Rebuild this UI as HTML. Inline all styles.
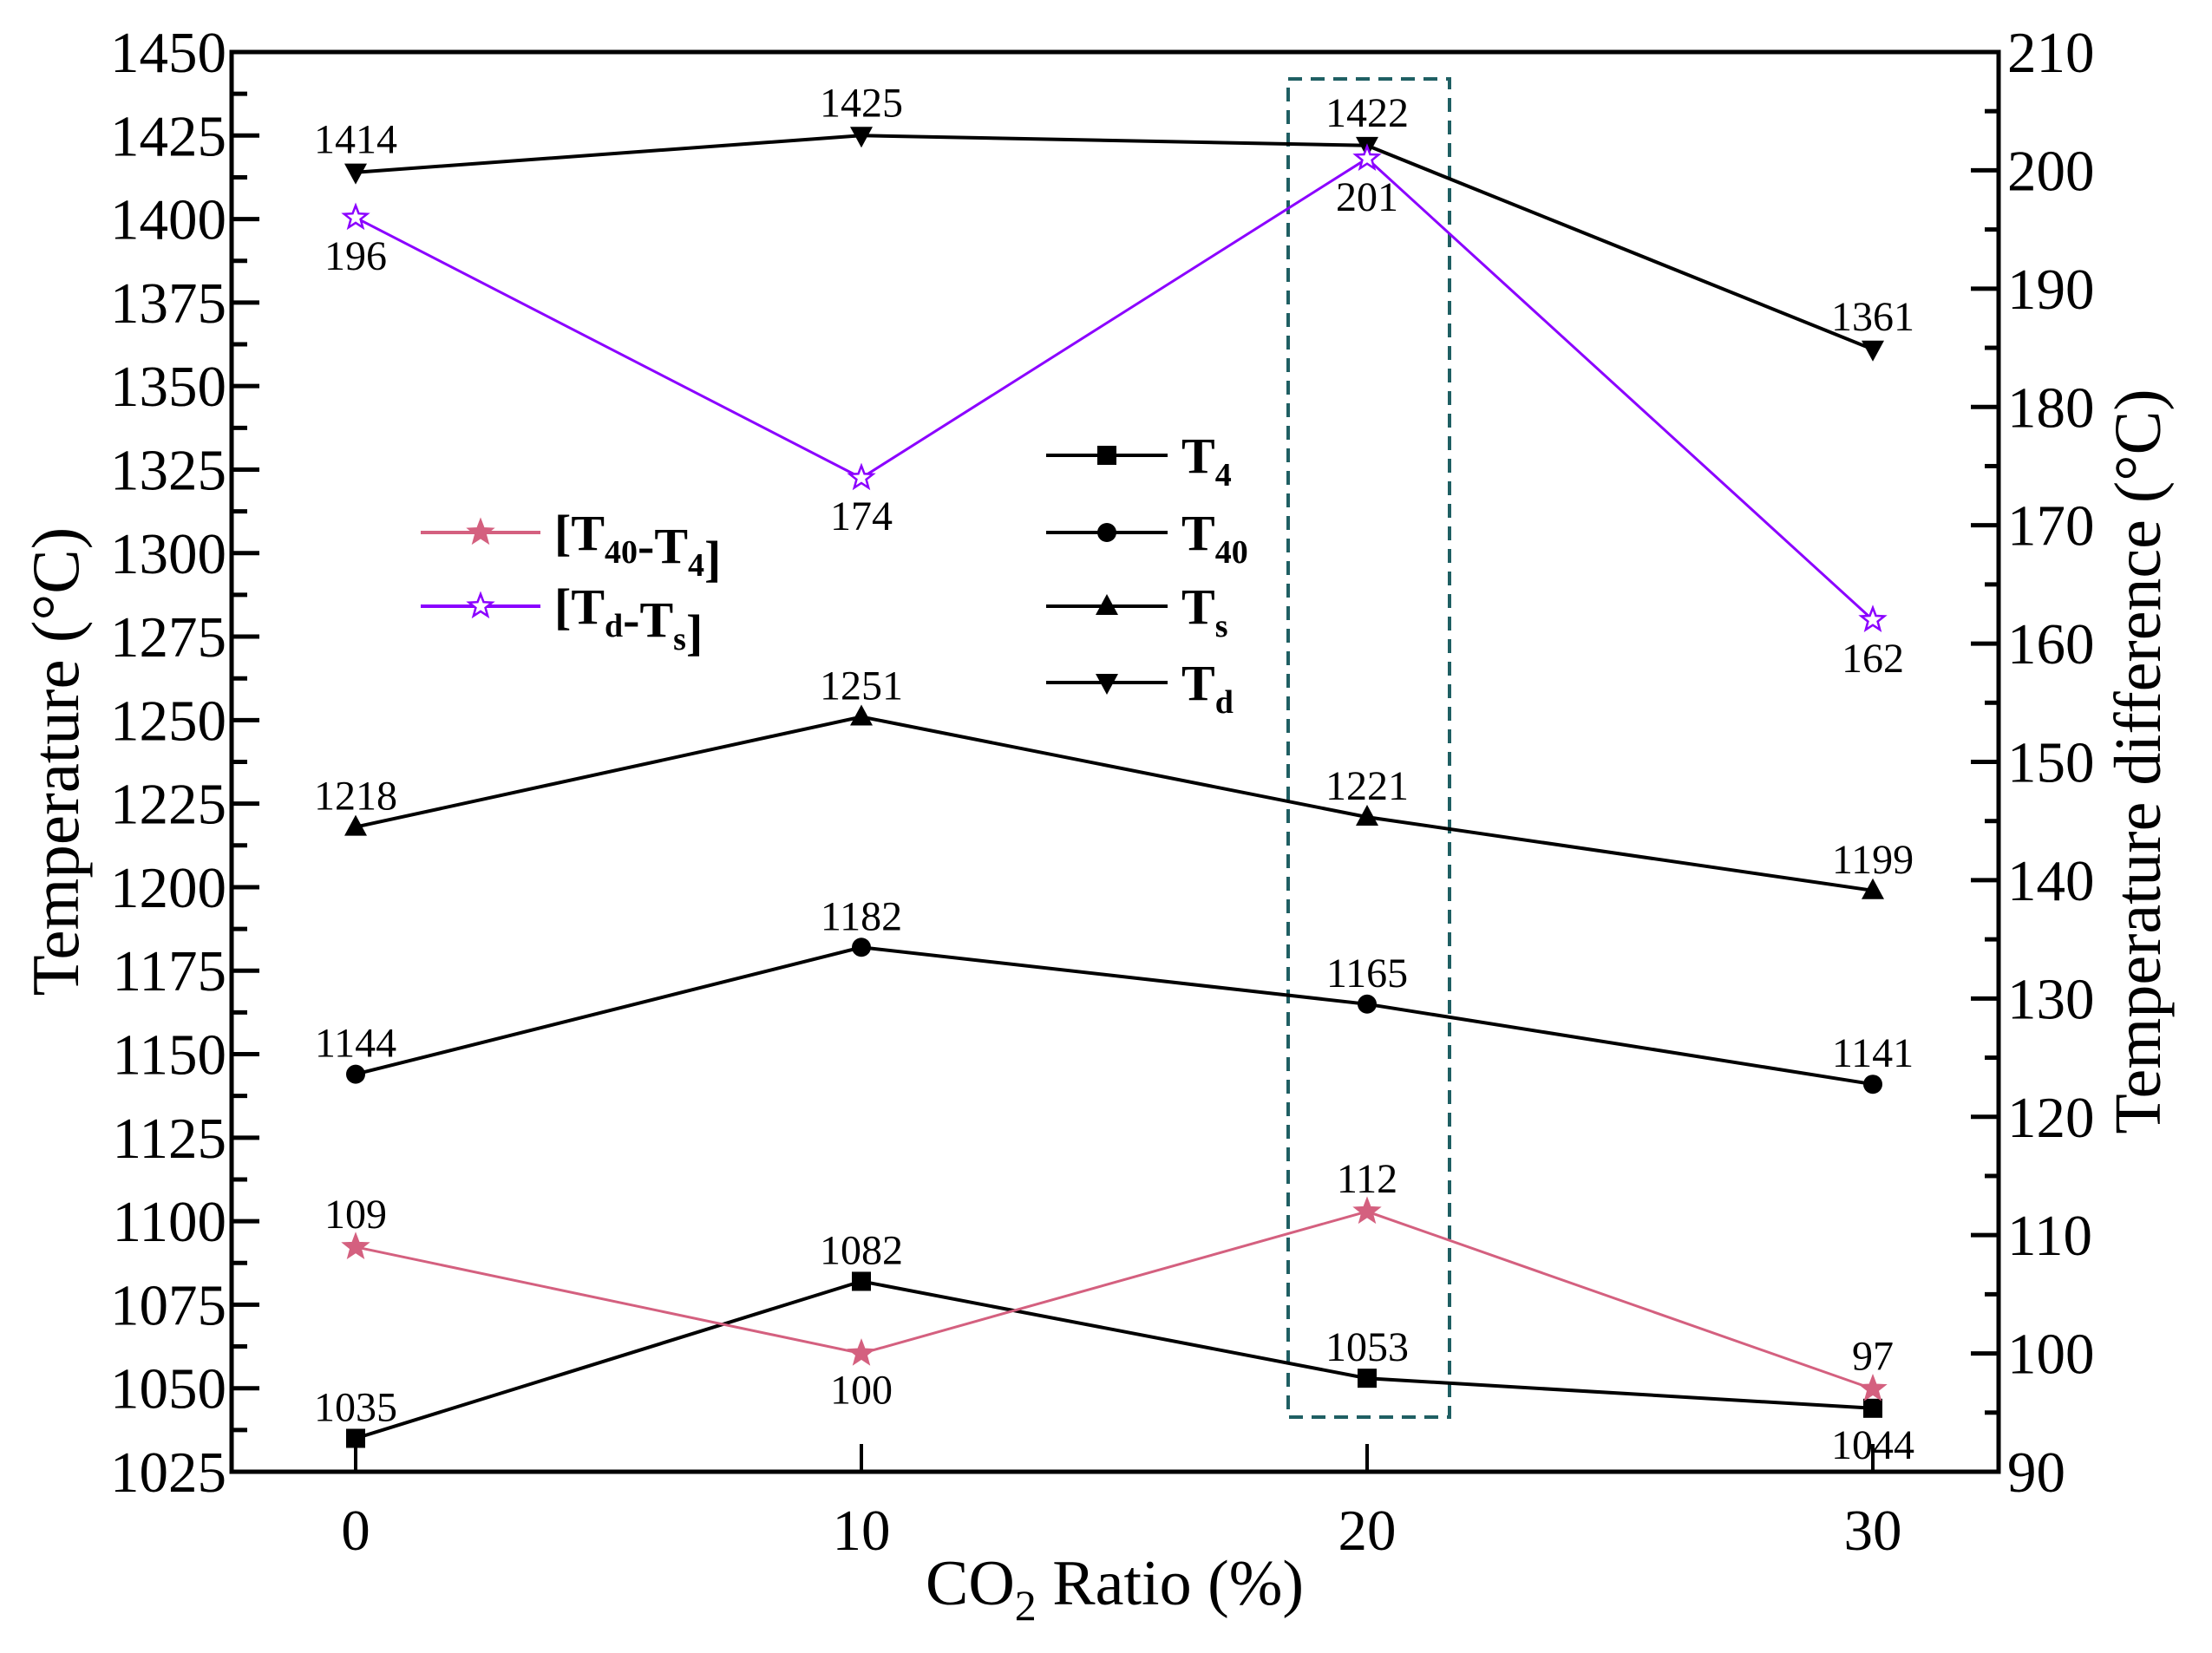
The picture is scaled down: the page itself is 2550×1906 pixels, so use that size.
<!DOCTYPE html>
<html><head><meta charset="utf-8"><style>
html,body{margin:0;padding:0;background:#fff;}
svg{display:block;font-family:"Liberation Serif",serif;}
</style></head><body>
<svg id="chart" width="2550" height="1906" viewBox="0 0 2550 1906" xmlns="http://www.w3.org/2000/svg">
<rect width="2550" height="1906" fill="#fff"/>
<g id="g"></g>
</svg>
<script>
const categories = [0, 10, 20, 30];
const t4 = [1035, 1082, 1053, 1044];
const t40 = [1144, 1182, 1165, 1141];
const ts = [1218, 1251, 1221, 1199];
const td = [1414, 1425, 1422, 1361];
const diff40_4 = [109, 100, 112, 97];
const diffDS = [196, 174, 201, 162];
const leftTicks = [1025,1050,1075,1100,1125,1150,1175,1200,1225,1250,1275,1300,1325,1350,1375,1400,1425,1450];
const rightTicks = [90,100,110,120,130,140,150,160,170,180,190,200,210];
const xTicks = [0,10,20,30];

const L=267, R=2304, T=60, B=1697;
const NS='http://www.w3.org/2000/svg';
const g=document.getElementById('g');
function xS(v){return 410+v*(2159-410)/30;}
function yL(v){return B-(v-1025)*(B-T)/425;}
function yR(v){return B-(v-90)*(B-T)/120;}
function el(tag,attrs,parent){const e=document.createElementNS(NS,tag);for(const k in attrs)e.setAttribute(k,attrs[k]);(parent||g).appendChild(e);return e;}
function txt(x,y,s,size,anchor,name){const e=el('text',{x:x,y:y,'font-size':size,'text-anchor':anchor||'middle',fill:'#000'});e.textContent=s;


return e;}

const box=el('rect',{x:1485,y:91,width:186,height:1543,fill:'none',stroke:'#1f5f63','stroke-width':4,'stroke-dasharray':'16,10'});



const frame=el('rect',{x:L,y:T,width:R-L,height:B-T,fill:'none',stroke:'#000','stroke-width':5});



leftTicks.forEach((v,i)=>{const y=yL(v);
 const t=el('line',{x1:L,x2:L+32,y1:y,y2:y,stroke:'#000','stroke-width':5});
 
 
 if(i<leftTicks.length-1){const ym=yL(v+12.5);const m=el('line',{x1:L,x2:L+18,y1:ym,y2:ym,stroke:'#000','stroke-width':5});
 
 }
 txt(L-6,y+23,String(v),67,'end','left-tick-label');
});
rightTicks.forEach((v,i)=>{const y=yR(v);
 const t=el('line',{x1:R,x2:R-32,y1:y,y2:y,stroke:'#000','stroke-width':5});
 
 
 if(i<rightTicks.length-1){const ym=yR(v+5);const m=el('line',{x1:R,x2:R-16,y1:ym,y2:ym,stroke:'#000','stroke-width':5});
 
 }
 txt(R+10,y+23,String(v),67,'start','right-tick-label');
});
xTicks.forEach(v=>{const x=xS(v);
 const t=el('line',{x1:x,x2:x,y1:B,y2:B-32,stroke:'#000','stroke-width':4});
 
 
 txt(x,1787,String(v),67,'middle','x-tick-label');
});

const yt=el('text',{x:0,y:0,'font-size':77,'text-anchor':'middle',transform:'translate(90,878) rotate(-90)'});
yt.textContent='Temperature (°C)';


const yr=el('text',{x:0,y:0,'font-size':76,'text-anchor':'middle',transform:'translate(2490,878) rotate(-90)'});
yr.textContent='Temperature difference (°C)';


const xt=el('text',{x:1285,y:1850,'font-size':74,'text-anchor':'middle'});
xt.innerHTML='CO<tspan font-size="50" dy="18">2</tspan><tspan dy="-18"> Ratio (%)</tspan>';



function star(cx,cy,r,fill,stroke){let p=[];for(let i=0;i<10;i++){const a=-Math.PI/2+i*Math.PI/5;const rr=i%2?r*0.42:r;p.push((cx+rr*Math.cos(a)).toFixed(1)+','+(cy+rr*Math.sin(a)).toFixed(1));}
 return el('polygon',{points:p.join(' '),fill:fill,stroke:stroke,'stroke-width':2.5});}
function marker(type,x,y,color){let m;
 if(type==='square')m=el('rect',{x:x-11,y:y-11,width:22,height:22,fill:'#000'});
 else if(type==='circle')m=el('circle',{cx:x,cy:y,r:11,fill:'#000'});
 else if(type==='up')m=el('polygon',{points:`${x},${y-14} ${x-13},${y+10} ${x+13},${y+10}`,fill:'#000'});
 else if(type==='down')m=el('polygon',{points:`${x},${y+14} ${x-13},${y-10} ${x+13},${y-10}`,fill:'#000'});
 else if(type==='starF')m=star(x,y,14,color,color);
 else m=star(x,y,14,'#fff',color);
 return m;}

function series(name,vals,yf,color,type,offs,w){
 const pts=vals.map((v,i)=>xS(categories[i])+','+yf(v).toFixed(1)).join(' ');
 const pl=el('polyline',{points:pts,fill:'none',stroke:color,'stroke-width':w});
 
 
 vals.forEach((v,i)=>{const x=xS(categories[i]),y=yf(v);
  const m=marker(type,x,y,color);
  
  
  txt(x,y+offs[i],String(v),48,'middle',name+'-value-label');
 });}
series('t4',t4,yL,'#000','square',[-20,-20,-20,58],4);
series('t40',t40,yL,'#000','circle',[-20,-20,-20,-20],4);
series('ts',ts,yL,'#000','up',[-20,-20,-20,-20],4);
series('td',td,yL,'#000','down',[-22,-22,-22,-22],4);
series('diff-t40-t4',diff40_4,yR,'#d4607f','starF',[-22,58,-22,-22],3);
series('diff-td-ts',diffDS,yR,'#8b00ff','starO',[60,60,60,60],3);

function legend(name,y,x1,x2,color,type,label){
 const ln=el('line',{x1:x1,x2:x2,y1:y,y2:y,stroke:color,'stroke-width':4});
 
 
 const m=marker(type,(x1+x2)/2,y,color);
 
 
 const t=el('text',{x:x2+16,y:y+20,'font-size':58,'font-weight':'bold'});
 t.innerHTML=label;
 
 
}
const sub=(s)=>`<tspan font-size="38" dy="15">${s}</tspan><tspan dy="-15"></tspan>`;
legend('diff-t40-t4',614,485,623,'#d4607f','starF','[T'+sub('40')+'-T'+sub('4')+']');
legend('diff-td-ts',699,485,623,'#8b00ff','starO','[T'+sub('d')+'-T'+sub('s')+']');
legend('t4',525,1206,1346,'#000','square','T'+sub('4'));
legend('t40',614,1206,1346,'#000','circle','T'+sub('40'));
legend('ts',699,1206,1346,'#000','up','T'+sub('s'));
legend('td',787,1206,1346,'#000','down','T'+sub('d'));
</script>
</body></html>
